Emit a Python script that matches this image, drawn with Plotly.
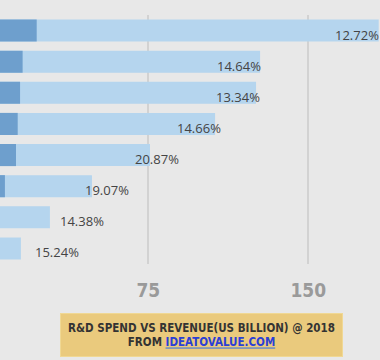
import plotly.graph_objects as go

companies = ["Company A", "Company B", "Company C", "Company D",
             "Company E", "Company F", "Company G", "Company H"]
rd_spend = [22.7, 16.1, 14.9, 13.8, 13.0, 7.8, 4.5, 3.5]
revenue = [183.0, 127.4, 125.5, 106.3, 75.8, 48.6, 28.9, 15.3]
pct_labels = ["12.72%", "14.64%", "13.34%", "14.66%",
              "20.87%", "19.07%", "14.38%", "15.24%"]
label_anchor = ["right", "right", "right", "right", "center", "center", "left", "left"]
label_shift = [2, 3, 6, 8, 7, 15, 8, 12]
x_ticks = [75, 150]

cond = "DejaVu Sans Condensed, Liberation Sans Narrow, Roboto Condensed, sans-serif"

fig = go.Figure()
fig.add_trace(go.Bar(y=companies, x=revenue, orientation="h",
                     marker=dict(color="#b5d5ee", line=dict(width=0)),
                     name="Revenue", hoverinfo="skip"))
fig.add_trace(go.Bar(y=companies, x=rd_spend, orientation="h",
                     marker=dict(color="#6e9fcd", line=dict(width=0)),
                     name="R&D", hoverinfo="skip"))

for c, v, t, a, s in zip(companies, revenue, pct_labels, label_anchor, label_shift):
    fig.add_annotation(x=v, y=c, text=t, showarrow=False, xanchor=a,
                       xshift=s, yshift=-4,
                       font=dict(family="Open Sans", size=13, color="#444444"))

fig.add_annotation(
    xref="paper", yref="paper", x=0.530, y=-0.285,
    xanchor="center", yanchor="middle", showarrow=False,
    text=("<b>R&D SPEND VS REVENUE(US BILLION) @ 2018</b><br>"
          "<b>FROM <a href='https://ideatovalue.com'><u><span style='color:#2a3fd6'>IDEATOVALUE.COM</span></u></a></b>"),
    font=dict(family=cond, size=11.5, color="#333333"),
    bgcolor="#eaca7d", bordercolor="#f0d894", borderwidth=1,
    width=279, height=40, borderpad=1, align="center")

fig.update_layout(
    width=380, height=360,
    margin=dict(l=0, r=0, t=15, b=96),
    paper_bgcolor="#e8e8e8", plot_bgcolor="#e8e8e8",
    barmode="overlay", bargap=0.29, showlegend=False,
    xaxis=dict(range=[5.5, 183.6], tickvals=x_ticks, showgrid=True,
               gridcolor="#d2d2d2", gridwidth=1.5, zeroline=False,
               showline=False, ticks="", ticklabelstandoff=13,
               tickfont=dict(family=cond, size=19, color="#9a9a9a", weight="bold")),
    yaxis=dict(autorange="reversed", showticklabels=False, showgrid=False,
               zeroline=False, showline=False, ticks=""),
)

fig.write_html("out.html", config={"displayModeBar": False},
               post_script="document.body.style.margin='0';document.body.style.overflow='hidden';")
